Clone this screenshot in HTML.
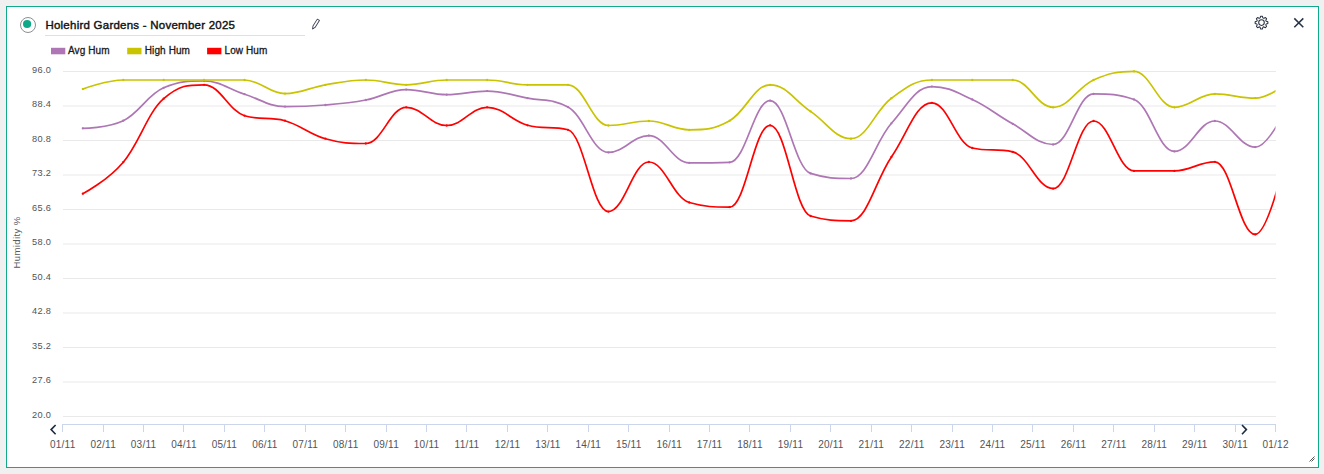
<!DOCTYPE html>
<html><head><meta charset="utf-8"><style>
html,body{margin:0;padding:0;}
body{width:1324px;height:474px;overflow:hidden;background:#f0f0f0;position:relative;font-family:"Liberation Sans",sans-serif;}
.box{position:absolute;left:6px;top:6px;width:1311px;height:460px;border:1px solid #10a98a;background:#fff;}
svg{position:absolute;left:0;top:0;}
.yl{font-size:9.2px;fill:#4f5358;letter-spacing:0.35px;}
.xl{font-size:10px;fill:#50545a;letter-spacing:0.25px;}
.yt{font-size:9.5px;fill:#555a60;letter-spacing:0.42px;}
.lg{font-size:10px;fill:#1a1a1a;stroke:#1a1a1a;stroke-width:0.3px;letter-spacing:0.1px;}
.tt{font-size:11.5px;fill:#111;stroke:#111;stroke-width:0.4px;letter-spacing:0.24px;}
</style></head><body><div class="box"></div>
<svg width="1324" height="474" viewBox="0 0 1324 474" font-family="Liberation Sans, sans-serif">
<line x1="63" x2="1276" y1="71.50" y2="71.50" stroke="#e9e9e9" stroke-width="1"/>
<text x="51.3" y="72.9" text-anchor="end" class="yl">96.0</text>
<line x1="63" x2="1276" y1="106.00" y2="106.00" stroke="#e9e9e9" stroke-width="1"/>
<text x="51.3" y="107.4" text-anchor="end" class="yl">88.4</text>
<line x1="63" x2="1276" y1="140.50" y2="140.50" stroke="#e9e9e9" stroke-width="1"/>
<text x="51.3" y="141.9" text-anchor="end" class="yl">80.8</text>
<line x1="63" x2="1276" y1="175.00" y2="175.00" stroke="#e9e9e9" stroke-width="1"/>
<text x="51.3" y="176.4" text-anchor="end" class="yl">73.2</text>
<line x1="63" x2="1276" y1="209.50" y2="209.50" stroke="#e9e9e9" stroke-width="1"/>
<text x="51.3" y="210.9" text-anchor="end" class="yl">65.6</text>
<line x1="63" x2="1276" y1="244.00" y2="244.00" stroke="#e9e9e9" stroke-width="1"/>
<text x="51.3" y="245.4" text-anchor="end" class="yl">58.0</text>
<line x1="63" x2="1276" y1="278.50" y2="278.50" stroke="#e9e9e9" stroke-width="1"/>
<text x="51.3" y="279.9" text-anchor="end" class="yl">50.4</text>
<line x1="63" x2="1276" y1="313.00" y2="313.00" stroke="#e9e9e9" stroke-width="1"/>
<text x="51.3" y="314.4" text-anchor="end" class="yl">42.8</text>
<line x1="63" x2="1276" y1="347.50" y2="347.50" stroke="#e9e9e9" stroke-width="1"/>
<text x="51.3" y="348.9" text-anchor="end" class="yl">35.2</text>
<line x1="63" x2="1276" y1="382.00" y2="382.00" stroke="#e9e9e9" stroke-width="1"/>
<text x="51.3" y="383.4" text-anchor="end" class="yl">27.6</text>
<line x1="63" x2="1276" y1="416.50" y2="416.50" stroke="#e9e9e9" stroke-width="1"/>
<text x="51.3" y="417.9" text-anchor="end" class="yl">20.0</text>
<line x1="62" x2="1276" y1="424.5" y2="424.5" stroke="#ccd6eb" stroke-width="1"/>
<line x1="62.5" x2="62.5" y1="424" y2="432" stroke="#ccd6eb" stroke-width="1"/>
<text x="62.7" y="448" text-anchor="middle" class="xl">01/11</text>
<line x1="103.5" x2="103.5" y1="424" y2="432" stroke="#ccd6eb" stroke-width="1"/>
<text x="103.2" y="448" text-anchor="middle" class="xl">02/11</text>
<line x1="143.5" x2="143.5" y1="424" y2="432" stroke="#ccd6eb" stroke-width="1"/>
<text x="143.6" y="448" text-anchor="middle" class="xl">03/11</text>
<line x1="183.5" x2="183.5" y1="424" y2="432" stroke="#ccd6eb" stroke-width="1"/>
<text x="184.0" y="448" text-anchor="middle" class="xl">04/11</text>
<line x1="224.5" x2="224.5" y1="424" y2="432" stroke="#ccd6eb" stroke-width="1"/>
<text x="224.4" y="448" text-anchor="middle" class="xl">05/11</text>
<line x1="264.5" x2="264.5" y1="424" y2="432" stroke="#ccd6eb" stroke-width="1"/>
<text x="264.9" y="448" text-anchor="middle" class="xl">06/11</text>
<line x1="305.5" x2="305.5" y1="424" y2="432" stroke="#ccd6eb" stroke-width="1"/>
<text x="305.3" y="448" text-anchor="middle" class="xl">07/11</text>
<line x1="345.5" x2="345.5" y1="424" y2="432" stroke="#ccd6eb" stroke-width="1"/>
<text x="345.7" y="448" text-anchor="middle" class="xl">08/11</text>
<line x1="386.5" x2="386.5" y1="424" y2="432" stroke="#ccd6eb" stroke-width="1"/>
<text x="386.2" y="448" text-anchor="middle" class="xl">09/11</text>
<line x1="426.5" x2="426.5" y1="424" y2="432" stroke="#ccd6eb" stroke-width="1"/>
<text x="426.6" y="448" text-anchor="middle" class="xl">10/11</text>
<line x1="466.5" x2="466.5" y1="424" y2="432" stroke="#ccd6eb" stroke-width="1"/>
<text x="467.0" y="448" text-anchor="middle" class="xl">11/11</text>
<line x1="507.5" x2="507.5" y1="424" y2="432" stroke="#ccd6eb" stroke-width="1"/>
<text x="507.5" y="448" text-anchor="middle" class="xl">12/11</text>
<line x1="547.5" x2="547.5" y1="424" y2="432" stroke="#ccd6eb" stroke-width="1"/>
<text x="547.9" y="448" text-anchor="middle" class="xl">13/11</text>
<line x1="588.5" x2="588.5" y1="424" y2="432" stroke="#ccd6eb" stroke-width="1"/>
<text x="588.3" y="448" text-anchor="middle" class="xl">14/11</text>
<line x1="628.5" x2="628.5" y1="424" y2="432" stroke="#ccd6eb" stroke-width="1"/>
<text x="628.7" y="448" text-anchor="middle" class="xl">15/11</text>
<line x1="669.5" x2="669.5" y1="424" y2="432" stroke="#ccd6eb" stroke-width="1"/>
<text x="669.2" y="448" text-anchor="middle" class="xl">16/11</text>
<line x1="709.5" x2="709.5" y1="424" y2="432" stroke="#ccd6eb" stroke-width="1"/>
<text x="709.6" y="448" text-anchor="middle" class="xl">17/11</text>
<line x1="749.5" x2="749.5" y1="424" y2="432" stroke="#ccd6eb" stroke-width="1"/>
<text x="750.0" y="448" text-anchor="middle" class="xl">18/11</text>
<line x1="790.5" x2="790.5" y1="424" y2="432" stroke="#ccd6eb" stroke-width="1"/>
<text x="790.5" y="448" text-anchor="middle" class="xl">19/11</text>
<line x1="830.5" x2="830.5" y1="424" y2="432" stroke="#ccd6eb" stroke-width="1"/>
<text x="830.9" y="448" text-anchor="middle" class="xl">20/11</text>
<line x1="871.5" x2="871.5" y1="424" y2="432" stroke="#ccd6eb" stroke-width="1"/>
<text x="871.3" y="448" text-anchor="middle" class="xl">21/11</text>
<line x1="911.5" x2="911.5" y1="424" y2="432" stroke="#ccd6eb" stroke-width="1"/>
<text x="911.8" y="448" text-anchor="middle" class="xl">22/11</text>
<line x1="952.5" x2="952.5" y1="424" y2="432" stroke="#ccd6eb" stroke-width="1"/>
<text x="952.2" y="448" text-anchor="middle" class="xl">23/11</text>
<line x1="992.5" x2="992.5" y1="424" y2="432" stroke="#ccd6eb" stroke-width="1"/>
<text x="992.6" y="448" text-anchor="middle" class="xl">24/11</text>
<line x1="1032.5" x2="1032.5" y1="424" y2="432" stroke="#ccd6eb" stroke-width="1"/>
<text x="1033.0" y="448" text-anchor="middle" class="xl">25/11</text>
<line x1="1073.5" x2="1073.5" y1="424" y2="432" stroke="#ccd6eb" stroke-width="1"/>
<text x="1073.5" y="448" text-anchor="middle" class="xl">26/11</text>
<line x1="1113.5" x2="1113.5" y1="424" y2="432" stroke="#ccd6eb" stroke-width="1"/>
<text x="1113.9" y="448" text-anchor="middle" class="xl">27/11</text>
<line x1="1154.5" x2="1154.5" y1="424" y2="432" stroke="#ccd6eb" stroke-width="1"/>
<text x="1154.3" y="448" text-anchor="middle" class="xl">28/11</text>
<line x1="1194.5" x2="1194.5" y1="424" y2="432" stroke="#ccd6eb" stroke-width="1"/>
<text x="1194.8" y="448" text-anchor="middle" class="xl">29/11</text>
<line x1="1235.5" x2="1235.5" y1="424" y2="432" stroke="#ccd6eb" stroke-width="1"/>
<text x="1235.2" y="448" text-anchor="middle" class="xl">30/11</text>
<line x1="1275.5" x2="1275.5" y1="424" y2="432" stroke="#ccd6eb" stroke-width="1"/>
<text x="1275.6" y="448" text-anchor="middle" class="xl">01/12</text>
<defs><clipPath id="pc"><rect x="62.6" y="0" width="1212.9" height="474"/></clipPath></defs>
<g clip-path="url(#pc)" fill="none" stroke-width="1.7" stroke-linejoin="round" stroke-linecap="round">
<path d="M82.81 128.30 C82.81 128.30 107.07 128.30 123.25 120.70 C139.42 113.10 147.50 94.60 163.68 87.80 C179.85 81.00 187.93 81.00 204.10 81.00 C220.28 81.00 228.36 89.08 244.53 94.20 C260.71 99.32 268.79 106.60 284.97 106.60 C301.14 106.60 309.22 106.32 325.40 105.00 C341.57 103.68 349.65 103.08 365.83 100.00 C382.00 96.92 390.08 89.60 406.25 89.60 C422.43 89.60 430.51 94.70 446.69 94.70 C462.86 94.70 470.94 91.10 487.12 91.10 C503.29 91.10 511.37 95.00 527.54 98.20 C543.72 101.40 551.80 98.20 567.98 107.10 C584.15 116.00 592.23 152.40 608.40 152.40 C624.58 152.40 632.66 135.70 648.84 135.70 C665.01 135.70 673.09 162.80 689.26 162.80 C705.44 162.80 713.52 162.80 729.70 162.30 C745.87 161.80 753.95 100.70 770.12 100.70 C786.30 100.70 794.38 168.30 810.56 173.40 C826.73 178.50 834.81 178.50 850.99 178.50 C867.16 178.50 875.24 141.68 891.41 123.30 C907.59 104.92 915.67 86.60 931.85 86.60 C948.02 86.60 956.10 92.06 972.27 99.50 C988.45 106.94 996.53 114.80 1012.71 123.80 C1028.88 132.80 1036.96 144.50 1053.13 144.50 C1069.31 144.50 1077.39 93.90 1093.56 93.90 C1109.74 93.90 1117.82 93.90 1133.99 99.50 C1150.17 105.10 1158.25 151.40 1174.42 151.40 C1190.60 151.40 1198.68 121.00 1214.85 121.00 C1231.03 121.00 1239.11 147.10 1255.28 147.10 C1271.46 147.10 1295.71 87.68 1295.71 87.68" stroke="#ae76b4"/>
<g fill="#ae76b4" stroke="none"><circle cx="82.81" cy="128.30" r="1.15"/><circle cx="123.25" cy="120.70" r="1.15"/><circle cx="163.68" cy="87.80" r="1.15"/><circle cx="204.10" cy="81.00" r="1.15"/><circle cx="244.53" cy="94.20" r="1.15"/><circle cx="284.97" cy="106.60" r="1.15"/><circle cx="325.40" cy="105.00" r="1.15"/><circle cx="365.83" cy="100.00" r="1.15"/><circle cx="406.25" cy="89.60" r="1.15"/><circle cx="446.69" cy="94.70" r="1.15"/><circle cx="487.12" cy="91.10" r="1.15"/><circle cx="527.54" cy="98.20" r="1.15"/><circle cx="567.98" cy="107.10" r="1.15"/><circle cx="608.40" cy="152.40" r="1.15"/><circle cx="648.84" cy="135.70" r="1.15"/><circle cx="689.26" cy="162.80" r="1.15"/><circle cx="729.70" cy="162.30" r="1.15"/><circle cx="770.12" cy="100.70" r="1.15"/><circle cx="810.56" cy="173.40" r="1.15"/><circle cx="850.99" cy="178.50" r="1.15"/><circle cx="891.41" cy="123.30" r="1.15"/><circle cx="931.85" cy="86.60" r="1.15"/><circle cx="972.27" cy="99.50" r="1.15"/><circle cx="1012.71" cy="123.80" r="1.15"/><circle cx="1053.13" cy="144.50" r="1.15"/><circle cx="1093.56" cy="93.90" r="1.15"/><circle cx="1133.99" cy="99.50" r="1.15"/><circle cx="1174.42" cy="151.40" r="1.15"/><circle cx="1214.85" cy="121.00" r="1.15"/><circle cx="1255.28" cy="147.10" r="1.15"/></g>
<path d="M82.81 89.10 C82.81 89.10 107.07 80.00 123.25 80.00 C139.42 80.00 147.50 80.00 163.68 80.00 C179.85 80.00 187.93 80.00 204.10 80.00 C220.28 80.00 228.36 80.00 244.53 80.00 C260.71 80.00 268.79 93.60 284.97 93.60 C301.14 93.60 309.22 87.52 325.40 84.80 C341.57 82.08 349.65 80.00 365.83 80.00 C382.00 80.00 390.08 84.80 406.25 84.80 C422.43 84.80 430.51 80.00 446.69 80.00 C462.86 80.00 470.94 80.00 487.12 80.00 C503.29 80.00 511.37 84.80 527.54 84.80 C543.72 84.80 551.80 84.80 567.98 84.80 C584.15 84.80 592.23 125.50 608.40 125.50 C624.58 125.50 632.66 121.00 648.84 121.00 C665.01 121.00 673.09 129.80 689.26 129.80 C705.44 129.80 713.52 129.70 729.70 120.70 C745.87 111.70 753.95 84.80 770.12 84.80 C786.30 84.80 794.38 100.62 810.56 111.40 C826.73 122.18 834.81 138.70 850.99 138.70 C867.16 138.70 875.24 109.94 891.41 98.20 C907.59 86.46 915.67 80.00 931.85 80.00 C948.02 80.00 956.10 80.00 972.27 80.00 C988.45 80.00 996.53 80.00 1012.71 80.00 C1028.88 80.00 1036.96 107.30 1053.13 107.30 C1069.31 107.30 1077.39 87.18 1093.56 80.00 C1109.74 72.82 1117.82 71.40 1133.99 71.40 C1150.17 71.40 1158.25 107.30 1174.42 107.30 C1190.60 107.30 1198.68 93.90 1214.85 93.90 C1231.03 93.90 1239.11 98.20 1255.28 98.20 C1271.46 98.20 1295.71 76.34 1295.71 76.34" stroke="#c9c300"/>
<g fill="#c9c300" stroke="none"><circle cx="82.81" cy="89.10" r="1.15"/><circle cx="123.25" cy="80.00" r="1.15"/><circle cx="163.68" cy="80.00" r="1.15"/><circle cx="204.10" cy="80.00" r="1.15"/><circle cx="244.53" cy="80.00" r="1.15"/><circle cx="284.97" cy="93.60" r="1.15"/><circle cx="325.40" cy="84.80" r="1.15"/><circle cx="365.83" cy="80.00" r="1.15"/><circle cx="406.25" cy="84.80" r="1.15"/><circle cx="446.69" cy="80.00" r="1.15"/><circle cx="487.12" cy="80.00" r="1.15"/><circle cx="527.54" cy="84.80" r="1.15"/><circle cx="567.98" cy="84.80" r="1.15"/><circle cx="608.40" cy="125.50" r="1.15"/><circle cx="648.84" cy="121.00" r="1.15"/><circle cx="689.26" cy="129.80" r="1.15"/><circle cx="729.70" cy="120.70" r="1.15"/><circle cx="770.12" cy="84.80" r="1.15"/><circle cx="810.56" cy="111.40" r="1.15"/><circle cx="850.99" cy="138.70" r="1.15"/><circle cx="891.41" cy="98.20" r="1.15"/><circle cx="931.85" cy="80.00" r="1.15"/><circle cx="972.27" cy="80.00" r="1.15"/><circle cx="1012.71" cy="80.00" r="1.15"/><circle cx="1053.13" cy="107.30" r="1.15"/><circle cx="1093.56" cy="80.00" r="1.15"/><circle cx="1133.99" cy="71.40" r="1.15"/><circle cx="1174.42" cy="107.30" r="1.15"/><circle cx="1214.85" cy="93.90" r="1.15"/><circle cx="1255.28" cy="98.20" r="1.15"/></g>
<path d="M82.81 193.70 C82.81 193.70 107.07 181.20 123.25 162.20 C139.42 143.20 147.50 112.60 163.68 98.70 C179.85 84.80 187.93 84.80 204.10 84.80 C220.28 84.80 228.36 110.70 244.53 115.70 C260.71 120.70 268.79 116.10 284.97 120.70 C301.14 125.30 309.22 134.14 325.40 138.70 C341.57 143.26 349.65 143.50 365.83 143.50 C382.00 143.50 390.08 107.30 406.25 107.30 C422.43 107.30 430.51 125.50 446.69 125.50 C462.86 125.50 470.94 107.30 487.12 107.30 C503.29 107.30 511.37 120.80 527.54 125.30 C543.72 129.80 551.80 125.30 567.98 129.80 C584.15 134.30 592.23 211.60 608.40 211.60 C624.58 211.60 632.66 162.00 648.84 162.00 C665.01 162.00 673.09 197.90 689.26 202.50 C705.44 207.10 713.52 207.10 729.70 207.10 C745.87 207.10 753.95 125.30 770.12 125.30 C786.30 125.30 794.38 211.20 810.56 216.00 C826.73 220.80 834.81 220.80 850.99 220.80 C867.16 220.80 875.24 180.60 891.41 157.00 C907.59 133.40 915.67 102.80 931.85 102.80 C948.02 102.80 956.10 144.10 972.27 148.00 C988.45 151.90 996.53 148.00 1012.71 151.90 C1028.88 155.80 1036.96 188.60 1053.13 188.60 C1069.31 188.60 1077.39 121.00 1093.56 121.00 C1109.74 121.00 1117.82 170.90 1133.99 170.90 C1150.17 170.90 1158.25 170.90 1174.42 170.90 C1190.60 170.90 1198.68 161.80 1214.85 161.80 C1231.03 161.80 1239.11 234.40 1255.28 234.40 C1271.46 234.40 1295.71 113.10 1295.71 113.10" stroke="#ff0000"/>
<g fill="#ff0000" stroke="none"><circle cx="82.81" cy="193.70" r="1.15"/><circle cx="123.25" cy="162.20" r="1.15"/><circle cx="163.68" cy="98.70" r="1.15"/><circle cx="204.10" cy="84.80" r="1.15"/><circle cx="244.53" cy="115.70" r="1.15"/><circle cx="284.97" cy="120.70" r="1.15"/><circle cx="325.40" cy="138.70" r="1.15"/><circle cx="365.83" cy="143.50" r="1.15"/><circle cx="406.25" cy="107.30" r="1.15"/><circle cx="446.69" cy="125.50" r="1.15"/><circle cx="487.12" cy="107.30" r="1.15"/><circle cx="527.54" cy="125.30" r="1.15"/><circle cx="567.98" cy="129.80" r="1.15"/><circle cx="608.40" cy="211.60" r="1.15"/><circle cx="648.84" cy="162.00" r="1.15"/><circle cx="689.26" cy="202.50" r="1.15"/><circle cx="729.70" cy="207.10" r="1.15"/><circle cx="770.12" cy="125.30" r="1.15"/><circle cx="810.56" cy="216.00" r="1.15"/><circle cx="850.99" cy="220.80" r="1.15"/><circle cx="891.41" cy="157.00" r="1.15"/><circle cx="931.85" cy="102.80" r="1.15"/><circle cx="972.27" cy="148.00" r="1.15"/><circle cx="1012.71" cy="151.90" r="1.15"/><circle cx="1053.13" cy="188.60" r="1.15"/><circle cx="1093.56" cy="121.00" r="1.15"/><circle cx="1133.99" cy="170.90" r="1.15"/><circle cx="1174.42" cy="170.90" r="1.15"/><circle cx="1214.85" cy="161.80" r="1.15"/><circle cx="1255.28" cy="234.40" r="1.15"/></g>
</g>
<text transform="translate(20.3,242.4) rotate(-90)" text-anchor="middle" class="yt">Humidity %</text>
<path d="M55.6 425 L51.1 429.6 L55.6 434.3" fill="none" stroke="#1d2b3f" stroke-width="1.6"/>
<path d="M1242 425 L1246.4 429.6 L1242 434.3" fill="none" stroke="#1d2b3f" stroke-width="1.6"/>
<rect x="51" y="47.8" width="14.3" height="6.5" fill="#ae76b4"/>
<text x="68" y="54.3" class="lg">Avg Hum</text>
<rect x="127.2" y="47.8" width="14.3" height="6.5" fill="#c9c300"/>
<text x="144.8" y="54.3" class="lg">High Hum</text>
<rect x="207.1" y="47.8" width="14.3" height="6.5" fill="#ff0000"/>
<text x="224.5" y="54.3" class="lg">Low Hum</text>
<circle cx="28" cy="25" r="7.5" fill="#fff" stroke="#8a8f94" stroke-width="1"/>
<circle cx="27.1" cy="24" r="4.1" fill="#0fa98a"/>
<text x="45.4" y="29" class="tt">Holehird Gardens - November 2025</text>
<line x1="45" x2="305" y1="35.5" y2="35.5" stroke="#dde1e6" stroke-width="1"/>
<g transform="translate(315.6,24.2) rotate(32)" fill="none" stroke="#3a4152" stroke-width="0.9" stroke-linejoin="round"><path d="M-1.25 -5.2 L1.25 -5.2 L1.25 3 L0 5.6 L-1.25 3 Z"/></g>
<path d="M1260.12 17.79 L1260.67 16.25 L1262.33 16.25 L1262.88 17.79 Q1263.20 18.49 1263.92 18.23 L1265.40 17.53 L1266.57 18.70 L1265.87 20.18 Q1265.61 20.90 1266.31 21.22 L1267.85 21.77 L1267.85 23.43 L1266.31 23.98 Q1265.61 24.30 1265.87 25.02 L1266.57 26.50 L1265.40 27.67 L1263.92 26.97 Q1263.20 26.71 1262.88 27.41 L1262.33 28.95 L1260.67 28.95 L1260.12 27.41 Q1259.80 26.71 1259.08 26.97 L1257.60 27.67 L1256.43 26.50 L1257.13 25.02 Q1257.39 24.30 1256.69 23.98 L1255.15 23.43 L1255.15 21.77 L1256.69 21.22 Q1257.39 20.90 1257.13 20.18 L1256.43 18.70 L1257.60 17.53 L1259.08 18.23 Q1259.80 18.49 1260.12 17.79 Z" fill="none" stroke="#2a3242" stroke-width="1.05" stroke-linejoin="round"/>
<circle cx="1261.5" cy="22.6" r="2.8" fill="none" stroke="#2a3242" stroke-width="1.05"/>
<path d="M1294.3 18.4 L1303.3 27.2 M1303.3 18.4 L1294.3 27.2" stroke="#263346" stroke-width="1.5"/>
<path d="M1309.5 461.5 L1314.5 456.5 M1311.5 461.5 L1314.5 458.5" stroke="#555" stroke-width="1"/>
</svg></body></html>
